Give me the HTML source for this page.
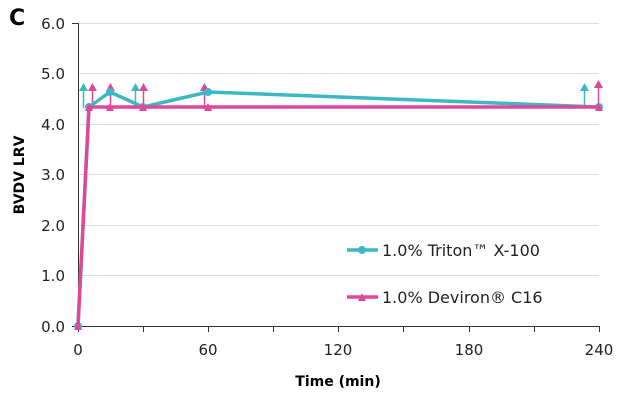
<!DOCTYPE html>
<html><head><style>body{margin:0;background:#fff}svg{display:block}text{font-family:"DejaVu Sans","Liberation Sans",sans-serif}</style></head><body>
<svg width="620" height="400" viewBox="0 0 620 400">
<text x="9" y="25" font-size="22" font-weight="bold" fill="#000">C</text>
<g stroke="#ddd" stroke-width="1">
<line x1="78" x2="599" y1="23.5" y2="23.5"/><line x1="78" x2="599" y1="73.5" y2="73.5"/><line x1="78" x2="599" y1="124.5" y2="124.5"/><line x1="78" x2="599" y1="174.5" y2="174.5"/><line x1="78" x2="599" y1="225.5" y2="225.5"/><line x1="78" x2="599" y1="275.5" y2="275.5"/>
</g>
<g stroke="#333" stroke-width="1">
<line x1="78.5" x2="78.5" y1="23" y2="326"/><line x1="72" x2="78" y1="23.5" y2="23.5"/>
<line x1="72" x2="599" y1="326.5" y2="326.5"/>
<line x1="78.5" x2="78.5" y1="326" y2="332"/><line x1="143.5" x2="143.5" y1="326" y2="332"/><line x1="208.5" x2="208.5" y1="326" y2="332"/><line x1="273.5" x2="273.5" y1="326" y2="332"/><line x1="338.5" x2="338.5" y1="326" y2="332"/><line x1="403.5" x2="403.5" y1="326" y2="332"/><line x1="469.5" x2="469.5" y1="326" y2="332"/><line x1="534.5" x2="534.5" y1="326" y2="332"/><line x1="599.5" x2="599.5" y1="326" y2="332"/>
</g>
<g font-size="15" fill="#222" text-anchor="end">
<text x="65" y="29">6.0</text><text x="65" y="79">5.0</text><text x="65" y="130">4.0</text><text x="65" y="180">3.0</text><text x="65" y="231">2.0</text><text x="65" y="281">1.0</text><text x="65" y="332">0.0</text>
</g>
<g font-size="15" fill="#222" text-anchor="middle">
<text x="78" y="355">0</text><text x="208" y="355">60</text><text x="338" y="355">120</text><text x="469" y="355">180</text><text x="599" y="355">240</text>
</g>
<text x="338" y="386" font-size="14" font-weight="bold" text-anchor="middle">Time (min)</text>
<text x="24" y="175" font-size="14" font-weight="bold" text-anchor="middle" transform="rotate(-90 24 175)">BVDV LRV</text>
<g stroke-width="1.5">
<g stroke="#3bb8c3" fill="#3bb8c3">
<line x1="83.5" x2="83.5" y1="108" y2="88"/><path d="M79 91L83.5 83L88 91Z" stroke="none"/>
<line x1="135.5" x2="135.5" y1="108" y2="88"/><path d="M131 91L135.5 83L140 91Z" stroke="none"/>
<line x1="584.5" x2="584.5" y1="108" y2="88"/><path d="M580 91L584.5 83L589 91Z" stroke="none"/>
</g>
<g stroke="#e0479b" fill="#e0479b">
<line x1="92.5" x2="92.5" y1="108" y2="88"/><path d="M88 91L92.5 83L97 91Z" stroke="none"/>
<line x1="110.5" x2="110.5" y1="108" y2="88"/><path d="M106 91L110.5 83L115 91Z" stroke="none"/>
<line x1="143.5" x2="143.5" y1="108" y2="88"/><path d="M139 91L143.5 83L148 91Z" stroke="none"/>
<line x1="204.5" x2="204.5" y1="108" y2="88"/><path d="M200 91L204.5 83L209 91Z" stroke="none"/>
<line x1="598.5" x2="598.5" y1="108" y2="85"/><path d="M594 88L598.5 80L603 88Z" stroke="none"/>
</g>
</g>
<polyline points="78,326 89,107 110,92 143,107 208,92 599,107" fill="none" stroke="#3bb8c3" stroke-width="3.5" stroke-linejoin="round"/>
<g fill="#3bb8c3"><circle cx="89" cy="107" r="4"/><circle cx="110" cy="92" r="4"/><circle cx="143" cy="107" r="4"/><circle cx="208" cy="92" r="4"/><circle cx="599" cy="107" r="4"/><circle cx="78" cy="326" r="4"/></g>
<polyline points="78,326 89,107 110,107 143,107 208,107 599,107" fill="none" stroke="#e0479b" stroke-width="3.5" stroke-linejoin="round"/>
<g fill="#e0479b">
<path d="M74 330L78 322L82 330Z"/><path d="M85 111L89 103L93 111Z"/><path d="M106 111L110 103L114 111Z"/><path d="M139 111L143 103L147 111Z"/><path d="M204 111L208 103L212 111Z"/><path d="M595 111L599 103L603 111Z"/>
</g>
<line x1="347" x2="378" y1="250" y2="250" stroke="#3bb8c3" stroke-width="3.5"/><circle cx="362" cy="250" r="4" fill="#3bb8c3"/>
<text x="382" y="256" font-size="16" fill="#222">1.0% Triton™ X-100</text>
<line x1="347" x2="378" y1="297" y2="297" stroke="#e0479b" stroke-width="3.5"/><path d="M358 301L362 293L366 301Z" fill="#e0479b"/>
<text x="382" y="303" font-size="16" fill="#222">1.0% Deviron® C16</text>
</svg>
</body></html>
